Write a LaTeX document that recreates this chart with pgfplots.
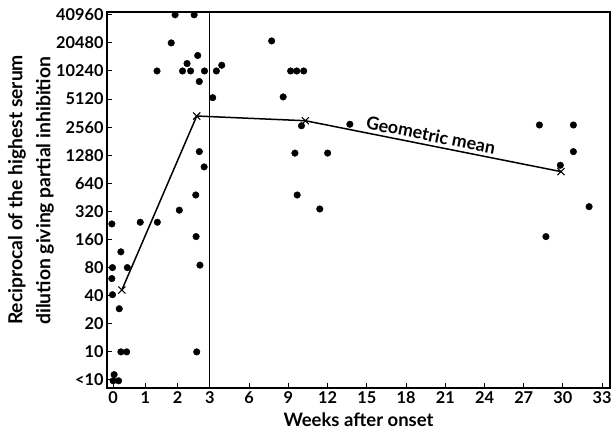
\documentclass[border=0pt]{standalone}
\usepackage{fontspec}
\setmainfont{Lato}
\usepackage{pgfplots}
\pgfplotsset{compat=1.18}

\begin{document}
\begin{tikzpicture}
\path[use as bounding box] (-107pt,-43pt) rectangle (506pt,388pt);
\begin{axis}[
    at={(0,0)}, anchor=south west,
    scale only axis, width=503pt, height=376pt,
    % the first three weeks are drawn on a wider scale
    x coord trafo/.code={\pgfmathparse{#1<=3 ? #1 : 3+(#1-3)*0.405}},
    x coord inv trafo/.code={\pgfmathparse{#1<=3 ? #1 : 3+(#1-3)/0.405}},
    xmin=-0.19, xmax=33.6,
    ymode=log, log basis y=2,
    ymin=4.1, ymax=43900,
    xtick={0,1,2,3,6,9,12,15,18,21,24,27,30,33},
    xticklabels={0,1,2,3,6,9,12,15,18,21,24,27,30,33},
    ytick={5,10,20,40,80,160,320,640,1280,2560,5120,10240,20480,40960},
    yticklabels={<10,10,20,40,80,160,320,640,1280,2560,5120,10240,20480,40960},
    tick align=inside, tick pos=left,
    major tick length=5pt,
    tick style={black, line width=1pt},
    axis line style={line width=1.2pt},
    tick label style={font=\bfseries\fontsize{16.3}{18}\selectfont},
    xlabel={Weeks after onset},
    xlabel style={at={(axis description cs:0.5,-0.085)}, anchor=center,
                  font=\bfseries\fontsize{18.5}{20}\selectfont},
    ylabel={Reciprocal of the highest serum\\dilution giving partial inhibition},
    ylabel style={at={(axis description cs:-0.151,0.527)}, anchor=center,
                  align=left, font=\bfseries\fontsize{19.3}{28}\selectfont},
]
% individual sera
\addplot[only marks, mark=*, mark size=3.3pt, black] coordinates {
    (1.92,40960) (2.51,40960) (1.80,20480) (2.62,15000)
    (1.36,10240) (2.15,10240) (2.29,12300) (2.40,10240) (2.83,10240)
    (3.49,10240) (3.90,11800) (2.67,7900) (3.21,5300)
    (2.67,1400) (2.82,960) (2.56,480) (2.05,330)
    (-0.04,235) (0.84,245) (1.37,245) (2.57,172) (0.24,118)
    (2.69,85) (-0.02,80) (0.44,80) (-0.04,61) (-0.02,41) (0.19,29)
    (0.24,10) (0.42,10) (2.59,10)
    (0.03,5.7) (0.00,4.9) (0.17,4.9)
    (7.72,21500) (9.17,10240) (9.64,10240) (10.17,10240) (8.6,5400)
    (10.0,2650) (13.7,2750) (9.5,1350) (12.0,1350) (9.67,480) (11.4,340)
    (28.2,2700) (30.8,2700) (30.8,1400) (29.8,1000) (32.0,360) (28.7,172)
};
% geometric mean
\addplot[black, line width=1.5pt, mark=x, mark size=5pt,
         mark options={line width=1.1pt}] coordinates {
    (0.27,46) (2.59,3370) (10.3,3000) (29.85,855)
};
% division between the two scales
\addplot[black, line width=1pt, mark=none] coordinates {(3,4.1) (3,43900)};
\node[rotate=-11.3, anchor=base, font=\bfseries\fontsize{17.8}{20}\selectfont]
    at (axis cs:19.8,1800) {Geometric mean};
\end{axis}
\end{tikzpicture}
\end{document}
